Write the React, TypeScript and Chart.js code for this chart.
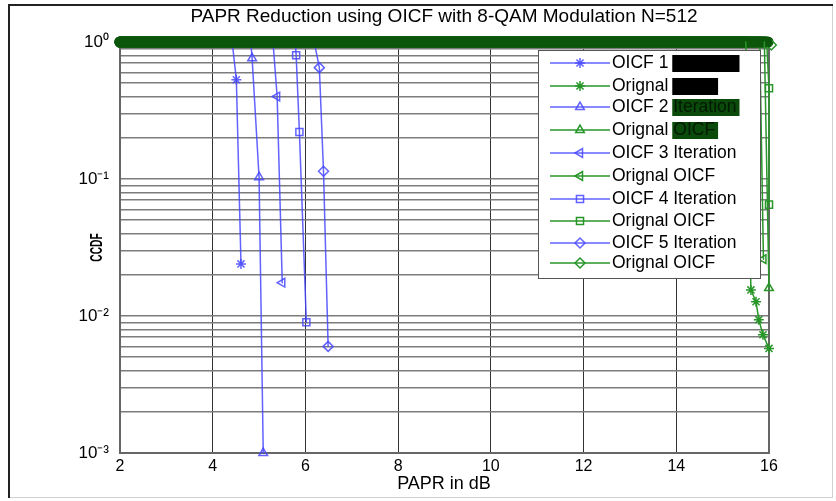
import React, { useEffect, useRef } from 'react';
import { Chart, registerables } from 'chart.js';
import { drawPoint } from 'chart.js/helpers';

Chart.register(...registerables);

const TITLE = 'PAPR Reduction using OICF with 8-QAM Modulation N=512';
const X_TITLE = 'PAPR in dB';
const Y_TITLE = 'CCDF';
const X_TICKS = [2, 4, 6, 8, 10, 12, 14, 16];
const Y_DECADES = [0.001, 0.01, 0.1, 1];
const Y_TICK_LABELS = ['10⁻³', '10⁻²', '10⁻¹', '10⁰'];

const LABELS = [
  'OICF 1 Iteration',
  'Orignal OICF',
  'OICF 2 Iteration',
  'Orignal OICF',
  'OICF 3 Iteration',
  'Orignal OICF',
  'OICF 4 Iteration',
  'Orignal OICF',
  'OICF 5 Iteration',
  'Orignal OICF',
];

// OICF (blue) curves
const OICF1_X = [4.42, 4.51, 4.61];
const OICF1_Y = [1, 0.53, 0.024];
const OICF2_X = [4.82, 4.85, 5.0, 5.09];
const OICF2_Y = [1, 0.76, 0.103, 0.001];
const OICF3_X = [5.3, 5.39, 5.5];
const OICF3_Y = [1, 0.4, 0.0175];
const OICF4_X = [5.78, 5.8, 5.87, 6.02];
const OICF4_Y = [1, 0.8, 0.22, 0.009];
const OICF5_X = [6.19, 6.3, 6.39, 6.49];
const OICF5_Y = [1, 0.65, 0.114, 0.006];

// Original (green) curves
const ORIG1_X = [2, 15.5, 15.61, 15.72, 15.78, 15.87, 16.0];
const ORIG1_Y = [1, 1, 0.0155, 0.0127, 0.0094, 0.0073, 0.0058];
const ORIG2_X = [2, 15.9, 16.0];
const ORIG2_Y = [1, 1, 0.016];
const ORIG3_X = [2, 15.8, 15.88];
const ORIG3_Y = [1, 1, 0.026];
const ORIG4_X = [2, 15.95, 16.0, 16.0];
const ORIG4_Y = [1, 1, 0.46, 0.065];
const ORIG5_X = [2, 15.98, 16.05];
const ORIG5_Y = [1, 1, 0.95];

const BLUE = 'rgba(70,70,255,0.85)';
const GREEN = 'rgb(40,150,40)';
const BAND = '#0b560b';
const FONT = "'Liberation Sans', Arial, sans-serif";

const STYLES = [
  { style: 'star', rot: 0, fill: true },
  { style: 'star', rot: 0, fill: true },
  { style: 'triangle', rot: 0, fill: false },
  { style: 'triangle', rot: 0, fill: false },
  { style: 'triangle', rot: -90, fill: false },
  { style: 'triangle', rot: -90, fill: false },
  { style: 'rect', rot: 0, fill: false },
  { style: 'rect', rot: 0, fill: false },
  { style: 'rectRot', rot: 0, fill: false },
  { style: 'rectRot', rot: 0, fill: false },
];
const REDACT = ['black', 'black', 'green', 'green', null, null, null, null, null, null];

const pts = (xs: number[], ys: number[]) => xs.map((x, i) => ({ x, y: ys[i] }));

const SERIES = [
  pts(OICF1_X, OICF1_Y),
  pts(ORIG1_X, ORIG1_Y),
  pts(OICF2_X, OICF2_Y),
  pts(ORIG2_X, ORIG2_Y),
  pts(OICF3_X, OICF3_Y),
  pts(ORIG3_X, ORIG3_Y),
  pts(OICF4_X, OICF4_Y),
  pts(ORIG4_X, ORIG4_Y),
  pts(OICF5_X, OICF5_Y),
  pts(ORIG5_X, ORIG5_Y),
];

const decor = {
  id: 'decor',
  beforeDraw(chart: any) {
    const ctx = chart.ctx;
    ctx.save();
    ctx.fillStyle = '#fff';
    ctx.fillRect(0, 0, chart.width, chart.height);
    ctx.strokeStyle = '#d0d0d0';
    ctx.lineWidth = 1;
    ctx.strokeRect(9.5, 5.5, 823, 492);
    ctx.strokeStyle = '#222';
    ctx.lineWidth = 2;
    ctx.beginPath();
    ctx.moveTo(9, 498);
    ctx.lineTo(9, 5);
    ctx.lineTo(833, 5);
    ctx.stroke();
    ctx.restore();
  },
  beforeDatasetsDraw(chart: any) {
    const { ctx, chartArea: a } = chart;
    ctx.save();
    ctx.strokeStyle = '#666';
    ctx.lineWidth = 2;
    ctx.beginPath();
    ctx.moveTo(a.left, a.top);
    ctx.lineTo(a.right, a.top);
    ctx.lineTo(a.right, a.bottom);
    ctx.stroke();
    ctx.restore();
  },
  afterDraw(chart: any) {
    const { ctx, chartArea: a } = chart;
    ctx.save();
    ctx.fillStyle = '#000';
    ctx.textAlign = 'center';
    ctx.textBaseline = 'middle';
    ctx.font = `19px ${FONT}`;
    ctx.fillText(TITLE, 444, 17);
    ctx.font = `18px ${FONT}`;
    ctx.fillText(X_TITLE, 444, 484);
    ctx.save();
    ctx.translate(97, (a.top + a.bottom) / 2);
    ctx.rotate(-Math.PI / 2);
    ctx.scale(0.6, 1);
    ctx.font = `bold 17px ${FONT}`;
    ctx.fillText(Y_TITLE, 0, 0);
    ctx.restore();

    // legend
    const lx = 538, ly = 50, lw = 222, lh = 228;
    ctx.fillStyle = '#fff';
    ctx.fillRect(lx, ly, lw, lh);
    ctx.strokeStyle = '#555';
    ctx.lineWidth = 1;
    ctx.strokeRect(lx + 0.5, ly + 0.5, lw, lh);
    const rowsY = [63, 86, 107, 130, 153, 176, 199, 221, 243, 263];
    ctx.font = `17.5px ${FONT}`;
    ctx.textAlign = 'left';
    LABELS.forEach((label, i) => {
      const y = rowsY[i];
      const col = i % 2 === 0 ? BLUE : GREEN;
      ctx.strokeStyle = col;
      ctx.lineWidth = 1.5;
      ctx.beginPath();
      ctx.moveTo(550, y);
      ctx.lineTo(610, y);
      ctx.stroke();
      const st = STYLES[i];
      ctx.fillStyle = st.fill ? col : 'rgba(0,0,0,0)';
      drawPoint(ctx, { pointStyle: st.style, rotation: st.rot, radius: 5, borderWidth: 1.5 }, 580, y);
      ctx.fillStyle = '#000';
      const red = REDACT[i];
      if (!red) {
        ctx.fillText(label, 612, y);
      } else {
        const sp = label.lastIndexOf(' ');
        const head = label.slice(0, sp);
        const tail = label.slice(sp + 1);
        ctx.fillText(head, 612, y);
        const hx = 612 + ctx.measureText(head + ' ').width;
        const tw = ctx.measureText(tail).width;
        ctx.fillStyle = red === 'black' ? '#000' : '#0a4a0a';
        ctx.fillRect(hx - 1, y - 8, tw + 4, 17);
        ctx.fillStyle = red === 'black' ? '#000' : '#021a02';
        ctx.fillText(tail, hx, y);
      }
    });
    ctx.restore();
  },
};

export default function App() {
  const ref = useRef<HTMLCanvasElement>(null);
  useEffect(() => {
    document.body.style.margin = '0';
    const isMajor = (v: number) => Y_DECADES.findIndex((d) => Math.abs(Math.log10(v) - Math.log10(d)) < 1e-6);
    const datasets = SERIES.map((data, i) => {
      const blue = i % 2 === 0;
      const col = blue ? BLUE : GREEN;
      const st = STYLES[i];
      return {
        label: LABELS[i],
        data,
        order: blue ? 1 : 0,
        borderColor: col,
        backgroundColor: st.fill ? col : 'rgba(0,0,0,0)',
        borderWidth: 1.5,
        pointStyle: st.style,
        rotation: st.rot,
        pointRadius: (c: any) => (c.raw && c.raw.y === 1 ? 0 : 5),
        pointBorderWidth: 1.5,
        pointBorderColor: col,
        pointBackgroundColor: st.fill ? col : 'rgba(0,0,0,0)',
        borderCapStyle: 'round',
        clip: false,
        segment: blue
          ? undefined
          : {
              borderWidth: (c: any) => (c.p0.parsed.y === 1 && c.p1.parsed.y === 1 ? 11 : undefined),
              borderColor: (c: any) => (c.p0.parsed.y === 1 && c.p1.parsed.y === 1 ? BAND : undefined),
            },
      };
    });
    const chart = new Chart(ref.current!, {
      type: 'line',
      data: { datasets },
      options: {
        animation: false,
        responsive: false,
        layout: { padding: { top: 42, right: 67, left: 0, bottom: 0 } },
        plugins: { legend: { display: false }, title: { display: false }, tooltip: { enabled: false } },
        scales: {
          x: {
            type: 'linear',
            min: 2,
            max: 16,
            afterBuildTicks: (s: any) => {
              s.ticks = X_TICKS.map((v) => ({ value: v }));
            },
            afterFit: (s: any) => {
              s.height = 48;
            },
            ticks: { color: '#000', font: { family: FONT, size: 16 }, padding: 4, maxRotation: 0, autoSkip: false },
            grid: { color: '#333', lineWidth: 1, drawTicks: false },
            border: { color: '#666', width: 2 },
          },
          y: {
            type: 'logarithmic',
            min: 0.001,
            max: 1,
            afterBuildTicks: (s: any) => {
              const t: any[] = [];
              for (let k = 0; k < Y_DECADES.length - 1; k++) {
                for (let m = 1; m <= 9; m++) t.push({ value: Y_DECADES[k] * m, major: m === 1 });
              }
              t.push({ value: Y_DECADES[Y_DECADES.length - 1], major: true });
              s.ticks = t;
            },
            afterFit: (s: any) => {
              s.width = 120;
            },
            ticks: {
              color: '#000',
              font: { family: FONT, size: 17 },
              padding: 11,
              autoSkip: false,
              callback: (v: any) => {
                const idx = isMajor(Number(v));
                return idx >= 0 ? Y_TICK_LABELS[idx] : '';
              },
            },
            grid: { color: '#7c7c7c', lineWidth: 1.5, drawTicks: false },
            border: { color: '#666', width: 2 },
          },
        },
      },
      plugins: [decor],
    } as any);
    return () => chart.destroy();
  }, []);
  return <canvas ref={ref} width={836} height={501} style={{ display: 'block' }} />;
}
